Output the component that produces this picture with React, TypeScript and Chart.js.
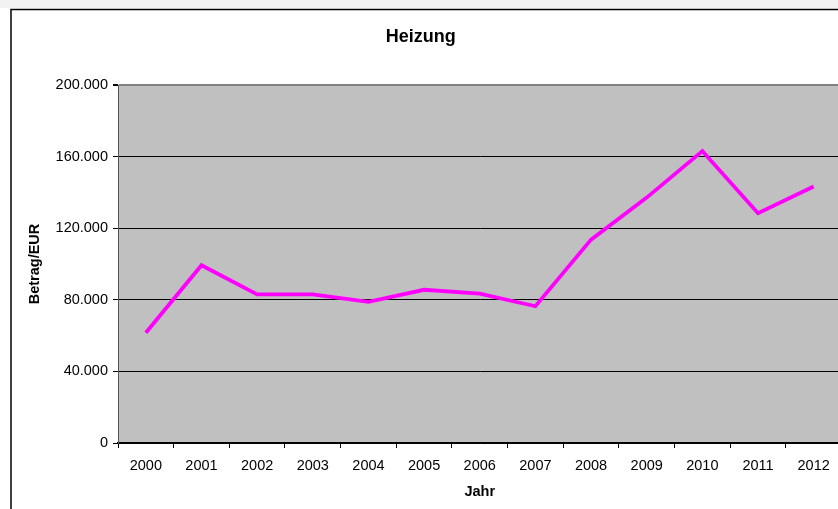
import React, { useEffect, useRef } from "react";
import { Chart, registerables } from "chart.js";

Chart.register(...registerables);

const years = ["2000", "2001", "2002", "2003", "2004", "2005", "2006", "2007", "2008", "2009", "2010", "2011", "2012"];
const heizung = [61600, 99300, 83000, 83000, 78900, 85600, 83400, 76400, 113600, 137100, 163100, 128400, 143300];
const yMin = 0;
const yMax = 200000;
const yStep = 40000;
const chartTitle = "Heizung";
const xTitle = "Jahr";
const yTitle = "Betrag/EUR";

const FONT = "'Liberation Sans', Arial, sans-serif";

function formatDE(v: number): string {
  const s = Math.round(v).toString();
  return s.replace(/\B(?=(\d{3})+(?!\d))/g, ".");
}

const backgroundPlugin = {
  id: "bgFrame",
  beforeDraw(chart: any) {
    const { ctx, chartArea, width, height } = chart;
    ctx.save();
    ctx.fillStyle = "#ffffff";
    ctx.fillRect(0, 0, width, height);
    ctx.fillStyle = "#f2f2f2";
    ctx.fillRect(0, 0, width, 8);
    ctx.strokeStyle = "#000000";
    ctx.lineWidth = 1.5;
    ctx.beginPath();
    ctx.moveTo(11, height);
    ctx.lineTo(11, 9.5);
    ctx.lineTo(width, 9.5);
    ctx.stroke();
    ctx.fillStyle = "#C0C0C0";
    ctx.fillRect(chartArea.left, chartArea.top, chartArea.right - chartArea.left, chartArea.bottom - chartArea.top);
    ctx.restore();
  },
};

export default function App() {
  const ref = useRef<HTMLCanvasElement | null>(null);

  useEffect(() => {
    document.body.style.margin = "0";
    const canvas = ref.current;
    if (!canvas) return;
    const chart = new Chart(canvas, {
      type: "line",
      data: {
        labels: years,
        datasets: [
          {
            label: chartTitle,
            data: heizung,
            borderColor: "#FF00FF",
            backgroundColor: "#FF00FF",
            borderWidth: 3.8,
            pointRadius: 0,
            tension: 0,
            fill: false,
          },
        ],
      },
      options: {
        responsive: false,
        animation: false,
        devicePixelRatio: 1,
        layout: { padding: { left: 0, right: 20.5, top: 0, bottom: 0 } },
        plugins: {
          legend: { display: false },
          tooltip: { enabled: false },
          title: {
            display: true,
            text: chartTitle,
            color: "#000",
            font: { family: FONT, size: 18, weight: "bold" },
            padding: { top: 26.5, bottom: 36.9 },
          },
        },
        scales: {
          x: {
            type: "category",
            offset: true,
            afterFit: (scale: any) => {
              scale.height = 66;
            },
            grid: {
              offset: true,
              drawOnChartArea: false,
              drawTicks: true,
              tickLength: 5,
              tickColor: "#000",
              color: "#000",
            },
            border: { display: true, color: "#000", width: 1.5 },
            ticks: {
              color: "#000",
              padding: 9,
              maxRotation: 0,
              autoSkip: false,
              font: { family: FONT, size: 14.5 },
            },
            title: {
              display: true,
              text: xTitle,
              color: "#000",
              font: { family: FONT, size: 14.5, weight: "bold" },
              padding: { top: 0, bottom: 8.5 },
            },
          },
          y: {
            min: yMin,
            max: yMax,
            afterFit: (scale: any) => {
              scale.width = 118;
            },
            grid: {
              drawOnChartArea: true,
              drawTicks: true,
              tickLength: 5,
              tickColor: "#000",
              color: (c: any) => (c.tick && c.tick.value === yMax ? "#808080" : "#000"),
              lineWidth: (c: any) => (c.tick && c.tick.value === yMax ? 2 : 1),
            },
            border: { display: true, color: "#555", width: 1 },
            ticks: {
              stepSize: yStep,
              color: "#000",
              padding: 5,
              font: { family: FONT, size: 14.5 },
              callback: (v: any) => formatDE(Number(v)),
            },
            title: {
              display: true,
              text: yTitle,
              color: "#000",
              font: { family: FONT, size: 14.5, weight: "bold" },
              padding: { top: 26.3, bottom: 0 },
            },
          },
        },
      },
      plugins: [backgroundPlugin],
    } as any);
    return () => chart.destroy();
  }, []);

  return (
    <div style={{ position: "fixed", left: 0, top: 0, width: 838, height: 509, overflow: "hidden", background: "#fff" }}>
      <canvas ref={ref} width={862} height={509} style={{ display: "block", width: 862, height: 509 }} />
    </div>
  );
}
